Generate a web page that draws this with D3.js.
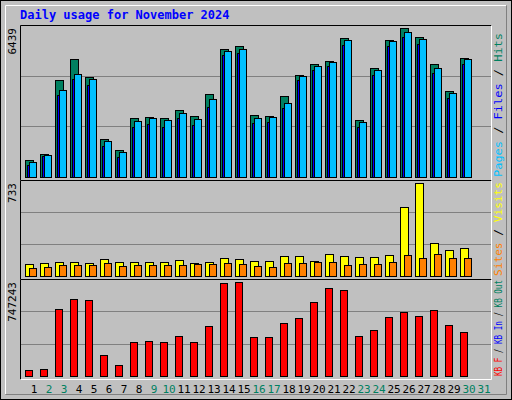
<!DOCTYPE html>
<html><head><meta charset="utf-8">
<script src="https://cdn.jsdelivr.net/npm/d3@7"></script>
<style>body{margin:0;background:#fff}</style>
</head><body>
<script>
// daily values
var days = d3.range(1, 32);
var weekend = [2, 3, 9, 10, 16, 17, 23, 24, 30, 31];
var hits  = [735,994,4190,5098,4320,1642,1166,2549,2592,2549,2894,2635,3586,5530,5659,2678,2635,3499,4406,4882,5011,6005,2462,4709,5918,6439,6048,4882,3715,5141,0];
var files = [520,900,3540,4230,3990,1340,860,2160,2290,2160,2550,2230,3030,5270,5370,2330,2380,2970,4180,4620,4790,5700,2160,4420,5660,6050,5750,4500,3410,4880,0];
var pages = [648,950,3758,4450,4234,1555,1080,2419,2549,2462,2765,2506,3370,5443,5530,2549,2592,3197,4363,4795,4968,5918,2376,4622,5875,6264,5962,4709,3629,5098,0];
var visits = [96,104,112,112,104,135,112,112,112,112,128,104,112,143,135,120,120,159,159,120,175,159,151,151,167,542,733,263,207,223,0];
var sites  = [64,72,88,88,88,104,80,88,88,88,88,96,96,104,96,80,72,104,104,112,112,88,96,96,112,167,143,175,143,143,0];
var kbytes = [49000,57000,534000,616000,608000,164000,90000,271000,279000,271000,320000,271000,394000,739000,747243,312000,312000,419000,460000,591000,698000,682000,320000,369000,468000,509000,476000,526000,402000,353000,0];

var W = 512, H = 400, left = 20, right = 491;
var svg = d3.select("body").append("svg").attr("width", W).attr("height", H)
  .style("font-family", "DejaVu Sans Mono");

// frame
svg.append("rect").attr("x", 0.5).attr("y", 0.5).attr("width", W - 1).attr("height", H - 1)
  .attr("fill", "#c0c0c0").attr("stroke", "#000");
svg.append("path").attr("d", "M5.5," + (H - 6) + "V5.5H" + (W - 6)).attr("fill", "none").attr("stroke", "#fff");
svg.append("path").attr("d", "M5.5," + (H - 5.5) + "H" + (W - 5.5) + "V5.5").attr("fill", "none").attr("stroke", "#808080");

svg.append("text").attr("x", 20).attr("y", 19).attr("fill", "#0000ff")
  .attr("font-size", 12).attr("font-weight", "bold").text("Daily usage for November 2024");

var x = d3.scaleLinear().domain([1, 31]).range([25, 475]);

function panel(top, bottom, max, series, labels, labelLen) {
  svg.append("path").attr("d", "M" + left + ".5," + (bottom + 0.5) + "V" + (top + 0.5) + "H" + right + ".5")
    .attr("fill", "none").attr("stroke", "#000");
  svg.append("path").attr("d", "M" + left + ".5," + (bottom + 0.5) + "H" + right + ".5V" + (top + 0.5))
    .attr("fill", "none").attr("stroke", "#fff");
  var base = bottom - 3;
  var y = d3.scaleLinear().domain([0, max]).range([base, top + 3]);
  var step = (base - top) / 3;
  [1, 2].forEach(function(k) {
    svg.append("line").attr("x1", left + 1).attr("x2", right)
      .attr("y1", Math.round(base - step * k) + 0.5).attr("y2", Math.round(base - step * k) + 0.5)
      .attr("stroke", "#808080");
  });
  series.forEach(function(s) {
    svg.append("g").selectAll("rect").data(s.values).join("rect")
      .filter(function(d) { return d > 0; })
      .attr("x", function(d, i) { return x(i + 1) + s.off + 0.5; })
      .attr("y", function(d) { return Math.round(y(d)) + 0.5; })
      .attr("width", s.w)
      .attr("height", function(d) { return base - Math.round(y(d)); })
      .attr("fill", s.color).attr("stroke", "#000");
  });
  svg.append("text").attr("transform", "translate(16," + (top + 3) + ") rotate(-90)")
    .attr("text-anchor", "end").attr("font-size", 11).text(d3.format("d")(max));
  var t = svg.append("text").attr("transform", "translate(502," + (bottom - 3) + ") rotate(-90)")
    .attr("font-size", 11).attr("textLength", labelLen).attr("lengthAdjust", "spacingAndGlyphs");
  labels.forEach(function(l) { t.append("tspan").attr("fill", l[1]).text(l[0]); });
}

panel(25, 180, 6439, [
  {values: hits, off: 0, w: 8, color: "#008060"},
  {values: files, off: 2, w: 8, color: "#0000ff"},
  {values: pages, off: 4, w: 7, color: "#00c0ff"}
], [["Pages", "#00c0ff"], [" / ", "#000"], ["Files", "#0000ff"], [" / ", "#000"], ["Hits", "#008060"]], 144);

panel(180, 279, 733, [
  {values: visits, off: 0, w: 8, color: "#ffff00"},
  {values: sites, off: 4, w: 7, color: "#ff8000"}
], [["Sites", "#ff8000"], [" / ", "#000"], ["Visits", "#ffff00"]], 94);

panel(279, 379, 747243, [
  {values: kbytes, off: 0, w: 7, color: "#ff0000"}
], [["KB F", "#ff0000"], [" / ", "#000"], ["KB In", "#0000ff"], [" / ", "#000"], ["KB Out", "#008060"]], 96);

svg.append("g").selectAll("text").data(days).join("text")
  .attr("x", function(d) { return x(d) + 9; }).attr("y", 393)
  .attr("text-anchor", "middle").attr("font-size", 11)
  .attr("fill", function(d) { return weekend.indexOf(d) >= 0 ? "#008060" : "#000"; })
  .text(function(d) { return d; });
</script>
</body></html>
